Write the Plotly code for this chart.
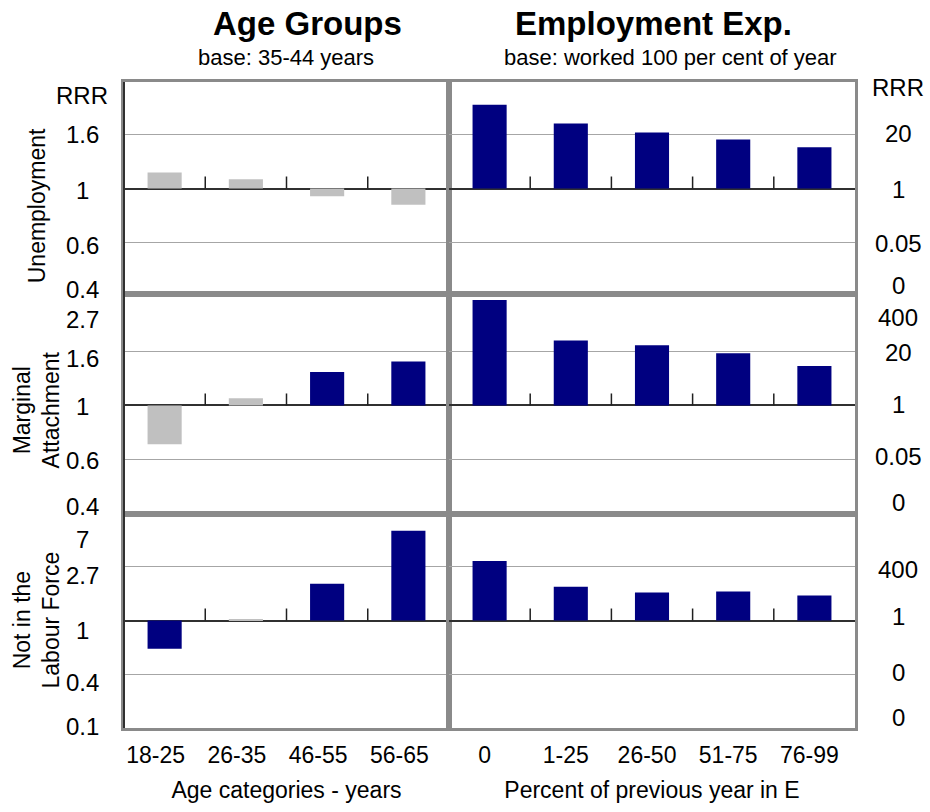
import numpy as np
import plotly.graph_objects as go
from plotly.subplots import make_subplots

# ---------------- data ----------------
age_categories = ["18-25", "26-35", "46-55", "56-65"]
emp_categories = ["0", "1-25", "26-50", "51-75", "76-99"]
outcomes = ["Unemployment", "Marginal<br>Attachment", "Not in the<br>Labour Force"]

# relative risk ratios (RRR)
age_rrr_unemployment = [1.16, 1.09, 0.93, 0.86]
age_rrr_marginal = [0.70, 1.07, 1.36, 1.50]
age_rrr_nilf = [0.59, 1.01, 1.98, 5.3]

emp_rrr_unemployment = [108, 37.7, 22.9, 15.5, 10.0]
emp_rrr_marginal = [343, 36.6, 27.9, 18.0, 8.9]
emp_rrr_nilf = [765, 43.7, 22.6, 25.2, 16.2]

# significant (dark) vs non-significant (grey) bars
age_sig_unemployment = [False, False, False, False]
age_sig_marginal = [False, False, True, True]
age_sig_nilf = [True, False, True, True]
emp_sig_unemployment = [True] * 5
emp_sig_marginal = [True] * 5
emp_sig_nilf = [True] * 5

# axis tick labels (text) per panel; positions are ln(RRR) values
left_tick_text = [["1.6", "1", "0.6", "0.4"],
                  ["2.7", "1.6", "1", "0.6", "0.4"],
                  ["7", "2.7", "1", "0.4", "0.1"]]
right_tick_text = [["20", "1", "0.05", "0"],
                   ["400", "20", "1", "0.05", "0"],
                   ["400", "1", "0", "0"]]

# ---------------- layout helpers ----------------
W, H = 930, 812
L, T, R, B = 124, 82, 75, 75
PW, PH = W - L - R, H - T - B
def xp(px):          # pixel -> paper x
    return (px - L) / PW
def yp(py):          # pixel -> paper y
    return (H - B - py) / PH

NAVY = "#000080"
GREY = "#c0c0c0"
FRAME = "#8a8a8a"
GRID = "#a6a6a6"
FONT = "Liberation Sans, Arial, sans-serif"

col_split = 325 / PW
row_bounds = [(yp(297), 1.0), (yp(520), yp(297)), (0.0, yp(520))]

# ln(RRR) axis ranges (left column); right column uses 6x scale
left_ranges = [[-0.982, 0.991], [-1.0, 1.027], [-2.0, 1.982]]
right_scale = 6.0
left_tick_pos = [[0.5, 0, -0.5, -1], [1, 0.5, 0, -0.5, -1], [2, 1, 0, -1, -2]]
left_tick_shift = [[0, -2, -3, 5], [-23, -7, -1, -1, 7], [-26, -9, -10, -8, 2]]
right_tick_pos = [[3, 0, -3, -6], [6, 3, 0, -3, -6], [6, 0, -6, -12]]
right_tick_shift = [[1, -1, -1, 9], [-21, -1, 1, 3, 11], [-3, 4, 2, 11]]
left_grid = [[-0.5, 0.5], [-0.5, 0.5], [-1, 1]]

fig = make_subplots(rows=3, cols=2, horizontal_spacing=0, vertical_spacing=0,
                    column_widths=[325, PW - 325])

age_vals = [age_rrr_unemployment, age_rrr_marginal, age_rrr_nilf]
age_sig = [age_sig_unemployment, age_sig_marginal, age_sig_nilf]
emp_vals = [emp_rrr_unemployment, emp_rrr_marginal, emp_rrr_nilf]
emp_sig = [emp_sig_unemployment, emp_sig_marginal, emp_sig_nilf]

annotations = []
shapes = []

for r in range(3):
    row = r + 1
    fig.add_trace(go.Bar(x=age_categories, y=np.log(age_vals[r]), width=0.42,
                         marker=dict(color=[NAVY if s else GREY for s in age_sig[r]], line_width=0),
                         showlegend=False), row=row, col=1)
    fig.add_trace(go.Bar(x=emp_categories, y=np.log(emp_vals[r]), width=0.42,
                         marker=dict(color=[NAVY if s else GREY for s in emp_sig[r]], line_width=0),
                         showlegend=False), row=row, col=2)

    for c, (cats, rng, grid) in enumerate([
            (age_categories, left_ranges[r], left_grid[r]),
            (emp_categories, [v * right_scale for v in left_ranges[r]], [g * right_scale for g in left_grid[r]])]):
        col = c + 1
        idx = r * 2 + col
        xd = [0, col_split] if col == 1 else [col_split, 1]
        fig.update_xaxes(row=row, col=col, type="category", range=[-0.5, len(cats) - 0.5],
                         domain=xd, showgrid=False, showline=True, mirror=True,
                         linecolor=FRAME, linewidth=3, ticks="", zeroline=False,
                         showticklabels=(row == 3),
                         tickfont=dict(family=FONT, size=23, color="#000"))
        fig.update_yaxes(row=row, col=col, range=rng, domain=list(row_bounds[r]),
                         tickvals=grid, showticklabels=False, ticks="",
                         showgrid=True, gridcolor=GRID, gridwidth=1,
                         zeroline=True, zerolinecolor="#303030", zerolinewidth=1.5,
                         showline=True, mirror=True, linecolor=FRAME, linewidth=3)
        xref = "x" if idx == 1 else f"x{idx}"
        yref = "y" if idx == 1 else f"y{idx}"
        # category separator tick marks sitting on the RRR = 1 line
        for i in range(len(cats) - 1):
            shapes.append(dict(type="line", xref=xref, yref=yref, ysizemode="pixel",
                               yanchor=0, x0=i + 0.5, x1=i + 0.5, y0=0, y1=12,
                               line=dict(color="#202020", width=1.5), layer="above"))
        # value labels of the RRR axis (clamped to the visible axis range)
        if col == 1:
            pos, txt, sh, xc = left_tick_pos[r], left_tick_text[r], left_tick_shift[r], xp(82)
        else:
            pos, txt, sh, xc = right_tick_pos[r], right_tick_text[r], right_tick_shift[r], xp(898)
        for p, t, s in zip(pos, txt, sh):
            pc = min(max(p, rng[0]), rng[1])
            annotations.append(dict(text=t, xref="paper", yref=yref, x=xc, y=pc,
                                    xanchor="center", yanchor="middle", yshift=s,
                                    showarrow=False,
                                    font=dict(family=FONT, size=24, color="#000")))

# x-axis tick label offsets and titles (bottom row)
fig.update_xaxes(row=3, col=1, ticklabelshift=-9, ticklabelstandoff=4,
                 title=dict(text="Age categories - years", standoff=16,
                            font=dict(family=FONT, size=23, color="#000")))
fig.update_xaxes(row=3, col=2, ticklabelshift=-5, ticklabelstandoff=4,
                 title=dict(text="Percent of previous year in E", standoff=16,
                            font=dict(family=FONT, size=23, color="#000")))

# RRR headers
annotations.append(dict(text="RRR", xref="paper", yref="paper", x=xp(82), y=yp(96),
                        xanchor="center", yanchor="middle", showarrow=False,
                        font=dict(family=FONT, size=24, color="#000")))
annotations.append(dict(text="RRR", xref="paper", yref="paper", x=xp(898), y=yp(88),
                        xanchor="center", yanchor="middle", showarrow=False,
                        font=dict(family=FONT, size=24, color="#000")))

# row labels
for text, ypx in zip(outcomes, [208, 415, 628]):
    annotations.append(dict(text=text, xref="paper", yref="paper", x=xp(37), y=yp(ypx),
                            xanchor="center", yanchor="middle", textangle=-90,
                            showarrow=False,
                            font=dict(family=FONT, size=23, color="#000")))

# column headings
annotations += [
    dict(text="<b>Age Groups</b>", xref="paper", yref="paper", x=xp(307), y=yp(23),
         xanchor="center", yanchor="middle", showarrow=False,
         font=dict(family=FONT, size=33, color="#000")),
    dict(text="base: 35-44 years", xref="paper", yref="paper", x=xp(286), y=yp(57),
         xanchor="center", yanchor="middle", showarrow=False,
         font=dict(family=FONT, size=22, color="#000")),
    dict(text="<b>Employment Exp.</b>", xref="paper", yref="paper", x=xp(653), y=yp(23),
         xanchor="center", yanchor="middle", showarrow=False,
         font=dict(family=FONT, size=33, color="#000")),
    dict(text="base: worked 100 per cent of year", xref="paper", yref="paper", x=xp(670), y=yp(57),
         xanchor="center", yanchor="middle", showarrow=False,
         font=dict(family=FONT, size=22, color="#000")),
]

# dark left frame edge
shapes.append(dict(type="line", xref="paper", yref="paper", x0=0, x1=0, y0=0, y1=1,
                   line=dict(color="#303030", width=2), layer="above"))

fig.update_layout(width=W, height=H, margin=dict(l=L, r=R, t=T, b=B),
                  paper_bgcolor="white", plot_bgcolor="white",
                  annotations=annotations, shapes=shapes,
                  font=dict(family=FONT, color="#000"), showlegend=False)

# pin the figure to the top-left corner of the page (no body margin / scrolling)
pin = ("var gd=document.getElementById('{plot_id}');"
       "document.documentElement.style.margin='0';document.body.style.margin='0';"
       "document.documentElement.style.overflow='hidden';document.body.style.overflow='hidden';"
       "gd.style.position='fixed';gd.style.top='0';gd.style.left='0';")
fig.write_html("out.html", config={"displayModeBar": False}, post_script=pin)
